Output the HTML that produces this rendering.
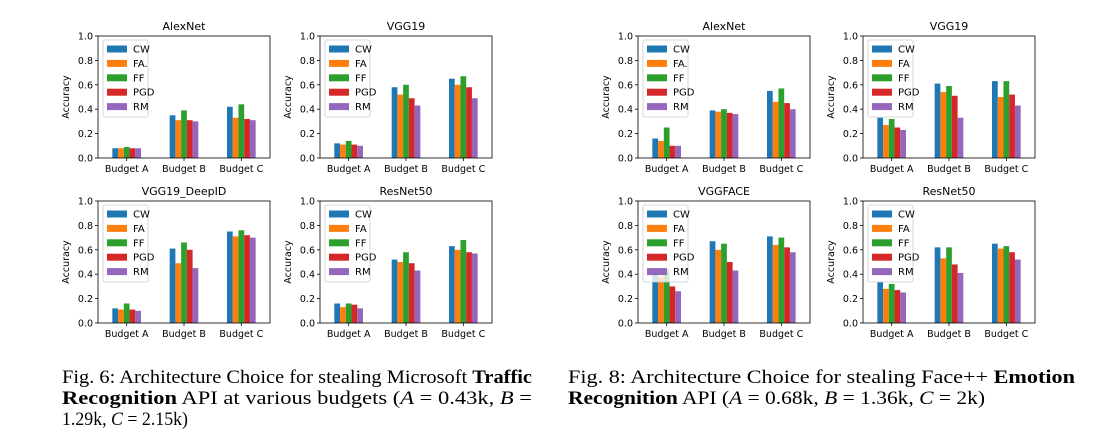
<!DOCTYPE html>
<html><head><meta charset="utf-8">
<style>
html,body{margin:0;padding:0;background:#fff;}
svg{display:block;}
</style></head>
<body>
<svg id="fig" width="1104" height="434" viewBox="0 0 1104 434" xmlns="http://www.w3.org/2000/svg">
<g id="charts"></g>
<g font-family="Liberation Serif, serif" font-size="19" fill="#000">
<text x="62" y="383" textLength="470" lengthAdjust="spacingAndGlyphs">Fig. 6: Architecture Choice for stealing Microsoft <tspan font-weight="bold">Traffic</tspan></text>
<text x="62" y="404" textLength="470" lengthAdjust="spacingAndGlyphs"><tspan font-weight="bold">Recognition</tspan> API at various budgets (<tspan font-style="italic">A</tspan>  =  0.43k, <tspan font-style="italic">B</tspan>  =</text>
<text x="62" y="425" textLength="126" lengthAdjust="spacingAndGlyphs">1.29k, <tspan font-style="italic">C</tspan> = 2.15k)</text>
</g>
<g font-family="Liberation Serif, serif" font-size="19" fill="#000">
<text x="568" y="383" textLength="507" lengthAdjust="spacingAndGlyphs">Fig. 8: Architecture Choice for stealing Face++ <tspan font-weight="bold">Emotion</tspan></text>
<text x="568" y="404" textLength="417" lengthAdjust="spacingAndGlyphs"><tspan font-weight="bold">Recognition</tspan> API (<tspan font-style="italic">A</tspan> = 0.68k, <tspan font-style="italic">B</tspan> = 1.36k, <tspan font-style="italic">C</tspan> = 2k)</text>
</g>
</svg>
<script>
const categories = ["Budget A","Budget B","Budget C"];
const seriesNames = ["CW","FA","FF","PGD","RM"];
const colors = ["#1f77b4","#ff7f0e","#2ca02c","#d62728","#9467bd"];
const yTicks = [0,0.2,0.4,0.6,0.8,1.0];
const yTickLabels = ["0.0","0.2","0.4","0.6","0.8","1.0"];
const titles = ["AlexNet","VGG19","VGG19_DeepID","ResNet50","AlexNet","VGG19","VGGFACE","ResNet50"];
const legendLabels = [["CW","FA.","FF","PGD","RM"],["CW","FA","FF","PGD","RM"],["CW","FA","FF","PGD","RM"],["CW","FA","FF","PGD","RM"],["CW","FA.","FF","PGD","RM"],["CW","FA","FF","PGD","RM"],["CW","FA","FF","PGD","RM"],["CW","FA","FF","PGD","RM"]];
// values[panel][category][series]
const alexnetTraffic = [[.08,.08,.09,.08,.08],[.35,.31,.39,.31,.30],[.42,.33,.44,.32,.31]];
const vgg19Traffic = [[.12,.11,.14,.11,.10],[.58,.52,.60,.49,.43],[.65,.60,.67,.58,.49]];
const vgg19DeepIdTraffic = [[.12,.11,.16,.11,.10],[.61,.49,.66,.60,.45],[.75,.71,.76,.72,.70]];
const resnet50Traffic = [[.16,.13,.16,.15,.12],[.52,.50,.58,.49,.43],[.63,.60,.68,.58,.57]];
const alexnetEmotion = [[.16,.14,.25,.10,.10],[.39,.38,.40,.37,.36],[.55,.46,.57,.45,.40]];
const vgg19Emotion = [[.33,.27,.32,.25,.23],[.61,.54,.59,.51,.33],[.63,.50,.63,.52,.43]];
const vggfaceEmotion = [[.44,.38,.44,.30,.26],[.67,.60,.65,.50,.43],[.71,.64,.70,.62,.58]];
const resnet50Emotion = [[.34,.28,.32,.27,.25],[.62,.53,.62,.48,.41],[.65,.61,.63,.58,.52]];
const panelData = [alexnetTraffic,vgg19Traffic,vgg19DeepIdTraffic,resnet50Traffic,alexnetEmotion,vgg19Emotion,vggfaceEmotion,resnet50Emotion];

const NS="http://www.w3.org/2000/svg";
const root=document.getElementById('charts');
function mk(tag,attrs,parent){const e=document.createElementNS(NS,tag);for(const k in attrs)e.setAttribute(k,attrs[k]);(parent||root).appendChild(e);return e;}
const lefts=[98,320,98,320,638,863,638,863];
const tops=[36,36,201,201,36,36,201,201];
const W=172,H=122;
panelData.forEach((data,p)=>{
  const L=lefts[p],T=tops[p];
  const g=mk('g',{});
  
  
  const xs=v=>L+(v+0.5)*W/3;
  const ys=v=>T+H-v*H;
  const t=mk('text',{x:L+W/2,y:T-6,'text-anchor':'middle','font-family':'DejaVu Sans, sans-serif','font-size':'11',fill:'#000'},g);
  t.textContent=titles[p];
  
  
  data.forEach((vals,c)=>{
    vals.forEach((v,s)=>{
      const cx=xs(c+(s-2)*0.1);
      const r=mk('rect',{x:cx-W/3*0.05,y:ys(v),width:W/3*0.1,height:ys(0)-ys(v),fill:colors[s]},g);
      
      
    });
  });
  const f=mk('rect',{x:L,y:T,width:W,height:H,fill:'none',stroke:'#000','stroke-width':'0.8'},g);
  
  
  yTicks.forEach((v,i)=>{
    mk('line',{x1:L-3,x2:L,y1:ys(v),y2:ys(v),stroke:'#000','stroke-width':'0.8'},g);
    const tl=mk('text',{x:L-5,y:ys(v)+3.5,'text-anchor':'end','font-family':'DejaVu Sans, sans-serif','font-size':'9.5',fill:'#000'},g);
    tl.textContent=yTickLabels[i];
    
    
  });
  categories.forEach((cName,i)=>{
    mk('line',{x1:xs(i),x2:xs(i),y1:T+H,y2:T+H+3,stroke:'#000','stroke-width':'0.8'},g);
    const tl=mk('text',{x:xs(i),y:T+H+14,'text-anchor':'middle','font-family':'DejaVu Sans, sans-serif','font-size':'9.5',fill:'#000'},g);
    tl.textContent=cName;
    
    
  });
  const yl=mk('text',{x:0,y:0,transform:`translate(${L-29},${T+H/2}) rotate(-90)`,'text-anchor':'middle','font-family':'DejaVu Sans, sans-serif','font-size':'9.5',fill:'#000'},g);
  yl.textContent='Accuracy';
  
  
  const lg=mk('g',{},g);
  
  
  mk('rect',{x:L+5,y:T+4,width:45,height:77,rx:2,fill:'rgba(255,255,255,0.8)',stroke:'#ccc','stroke-width':'0.8'},lg);
  legendLabels[p].forEach((lab,s)=>{
    const yy=T+13+s*14.4;
    const e=mk('g',{},lg);
    
    
    mk('rect',{x:L+9,y:yy-3.5,width:20,height:7,fill:colors[s]},e);
    const tx=mk('text',{x:L+35,y:yy+3.5,'font-family':'DejaVu Sans, sans-serif','font-size':'10',fill:'#000'},e);
    tx.textContent=lab;
  });
});
</script>
</body></html>
